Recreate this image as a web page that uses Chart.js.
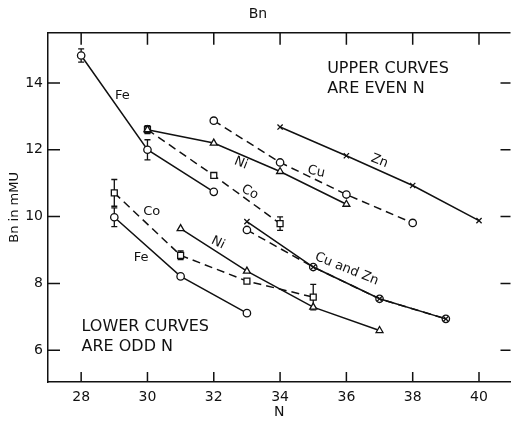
<!DOCTYPE html>
<html>
<head>
<meta charset="utf-8">
<script src="https://cdn.jsdelivr.net/npm/chart.js@4"></script>
<style>
  html, body { margin: 0; padding: 0; background: #fff; }
  #wrap { width: 516px; height: 423px; position: relative; }
</style>
</head>
<body>
<div id="wrap"><canvas id="myChart"></canvas></div>
<script>
(() => {
  // Tick values
  const xTicks = [28, 30, 32, 34, 36, 38, 40];
  const yTicks = [6, 8, 10, 12, 14];

  // Upper curves (even N)
  const feEvenN = [28, 30, 32];
  const feEvenBn = [14.82, 12.0, 10.74];
  const feEvenErr = [0.2, 0.3, 0];

  const coEvenN = [30, 32, 34];
  const coEvenBn = [12.6, 11.23, 9.79];
  const coEvenErr = [0.12, 0, 0.2];

  const niEvenN = [30, 32, 34, 36];
  const niEvenBn = [12.6, 12.2, 11.35, 10.37];

  const cuEvenN = [32, 34, 36, 38];
  const cuEvenBn = [12.87, 11.62, 10.66, 9.81];

  const znEvenN = [34, 36, 38, 40];
  const znEvenBn = [12.68, 11.82, 10.93, 9.88];

  // Lower curves (odd N)
  const feOddN = [29, 31, 33];
  const feOddBn = [9.98, 8.21, 7.11];
  const feOddErr = [0.28, 0, 0];

  const coOddN = [29, 31, 33, 35];
  const coOddBn = [10.71, 8.84, 8.07, 7.59];
  const coOddErr = [0.4, 0.13, 0, 0.38];

  const niOddN = [31, 33, 35, 37];
  const niOddBn = [9.64, 8.37, 7.29, 6.59];

  const cuOddN = [33, 35, 37, 39];
  const cuOddBn = [9.6, 8.49, 7.54, 6.94];

  const znOddN = [33, 35, 37, 39];
  const znOddBn = [9.85, 8.49, 7.54, 6.94];

  const INK = '#111';
  Chart.defaults.font.family = '"DejaVu Sans", sans-serif';
  Chart.defaults.color = INK;

  const pts = (xs, ys) => xs.map((x, i) => ({ x: x, y: ys[i] }));

  const series = (xs, ys, style, dashed, err) => ({
    data: pts(xs, ys),
    err: err || null,
    showLine: true,
    borderColor: INK,
    borderWidth: 1.5,
    borderDash: dashed ? [8, 5] : [],
    pointStyle: style,
    pointRadius: style === 'rect' ? 4.2 : (style === 'triangle' ? 4 : 3.7),
    pointBorderWidth: 1.3,
    pointBorderColor: INK,
    pointBackgroundColor: '#fff',
    tension: 0
  });

  // First in list is drawn on top
  const datasets = [
    series(feEvenN, feEvenBn, 'circle', false, feEvenErr),
    series(niEvenN, niEvenBn, 'triangle', false),
    series(coEvenN, coEvenBn, 'rect', true, coEvenErr),
    series(cuEvenN, cuEvenBn, 'circle', true),
    series(znEvenN, znEvenBn, 'crossRot', false),
    series(feOddN, feOddBn, 'circle', false, feOddErr),
    series(niOddN, niOddBn, 'triangle', false),
    series(coOddN, coOddBn, 'rect', true, coOddErr),
    series(znOddN, znOddBn, 'crossRot', false),
    series(cuOddN, cuOddBn, 'circle', true)
  ];

  // Curve names, written in data coordinates
  const notes = [
    { text: 'Fe', x: 29.24, y: 13.61, rot: 0 },
    { text: 'Ni', x: 32.82, y: 11.6, rot: 22 },
    { text: 'Co', x: 33.09, y: 10.73, rot: 28 },
    { text: 'Cu', x: 35.09, y: 11.34, rot: 12 },
    { text: 'Zn', x: 37.0, y: 11.66, rot: 22 },
    { text: 'Co', x: 30.13, y: 10.14, rot: 0 },
    { text: 'Ni', x: 32.13, y: 9.21, rot: 26 },
    { text: 'Fe', x: 29.81, y: 8.76, rot: 0 },
    { text: 'Cu and Zn', x: 36.01, y: 8.43, rot: 22 }
  ];
  const blocks = [
    { lines: ['UPPER CURVES', 'ARE EVEN N'], x: 35.42, y: 14.42 },
    { lines: ['LOWER CURVES', 'ARE ODD N'], x: 28.01, y: 6.69 }
  ];

  const extras = {
    id: 'extras',
    beforeDatasetsDraw(chart) {
      const ctx = chart.ctx, xs = chart.scales.x, ys = chart.scales.y;
      ctx.save();
      ctx.strokeStyle = INK;
      ctx.lineWidth = 1.3;
      ctx.beginPath();
      chart.data.datasets.forEach(ds => {
        if (!ds.err) return;
        ds.data.forEach((p, i) => {
          const e = ds.err[i];
          if (!e) return;
          const px = xs.getPixelForValue(p.x);
          const top = ys.getPixelForValue(p.y + e);
          const bot = ys.getPixelForValue(p.y - e);
          ctx.moveTo(px, top); ctx.lineTo(px, bot);
          ctx.moveTo(px - 3, top); ctx.lineTo(px + 3, top);
          ctx.moveTo(px - 3, bot); ctx.lineTo(px + 3, bot);
        });
      });
      ctx.stroke();
      ctx.restore();
    },
    afterDraw(chart) {
      const ctx = chart.ctx, xs = chart.scales.x, ys = chart.scales.y;
      const a = chart.chartArea;
      ctx.save();
      ctx.strokeStyle = INK;
      ctx.lineWidth = 1.5;
      ctx.beginPath();
      ctx.moveTo(a.left, a.top); ctx.lineTo(a.right, a.top);
      xTicks.forEach(v => {
        const px = xs.getPixelForValue(v);
        ctx.moveTo(px, a.bottom); ctx.lineTo(px, a.bottom - 10);
        ctx.moveTo(px, a.top); ctx.lineTo(px, a.top + 12);
      });
      yTicks.forEach(v => {
        const py = ys.getPixelForValue(v);
        ctx.moveTo(a.left, py); ctx.lineTo(a.left + 12, py);
        ctx.moveTo(a.right, py); ctx.lineTo(a.right - 10, py);
      });
      ctx.stroke();

      ctx.fillStyle = INK;
      ctx.font = '13px "DejaVu Sans"';
      ctx.textAlign = 'center';
      ctx.textBaseline = 'middle';
      notes.forEach(n => {
        ctx.save();
        ctx.translate(xs.getPixelForValue(n.x), ys.getPixelForValue(n.y));
        ctx.rotate(n.rot * Math.PI / 180);
        ctx.fillText(n.text, 0, 0);
        ctx.restore();
      });

      ctx.font = '16px "DejaVu Sans"';
      ctx.textAlign = 'left';
      blocks.forEach(b => {
        const px = xs.getPixelForValue(b.x);
        const py = ys.getPixelForValue(b.y);
        b.lines.forEach((t, i) => ctx.fillText(t, px, py + i * 20));
      });
      ctx.restore();
    }
  };

  new Chart(document.getElementById('myChart'), {
    type: 'scatter',
    data: { datasets: datasets },
    plugins: [extras],
    options: {
      responsive: true,
      maintainAspectRatio: false,
      animation: false,
      layout: { padding: 0 },
      plugins: {
        legend: { display: false },
        tooltip: { enabled: false },
        title: {
          display: true,
          text: 'Bn',
          color: INK,
          font: { size: 14, weight: 'normal' },
          padding: { top: 6, bottom: 10 }
        }
      },
      scales: {
        x: {
          type: 'linear',
          min: 27,
          max: 40.95,
          afterBuildTicks: s => { s.ticks = xTicks.map(v => ({ value: v })); },
          afterFit: s => { s.height = 41; },
          grid: { drawOnChartArea: false, drawTicks: false },
          border: { color: INK, width: 1.5 },
          ticks: { color: INK, font: { size: 14 }, padding: 7, maxRotation: 0, autoSkip: false },
          title: { display: true, text: 'N', color: INK, font: { size: 14 }, padding: { top: 0, bottom: 2 } }
        },
        y: {
          type: 'linear',
          min: 5.05,
          max: 15.5,
          afterBuildTicks: s => { s.ticks = yTicks.map(v => ({ value: v })); },
          afterFit: s => { s.width = 48; },
          grid: { drawOnChartArea: false, drawTicks: false },
          border: { color: INK, width: 1.5 },
          ticks: { color: INK, font: { size: 14 }, padding: 5 },
          title: { display: true, text: 'Bn in mMU', color: INK, font: { size: 13 }, padding: { top: 7, bottom: 0 } }
        }
      }
    }
  });
})();
</script>
</body>
</html>
